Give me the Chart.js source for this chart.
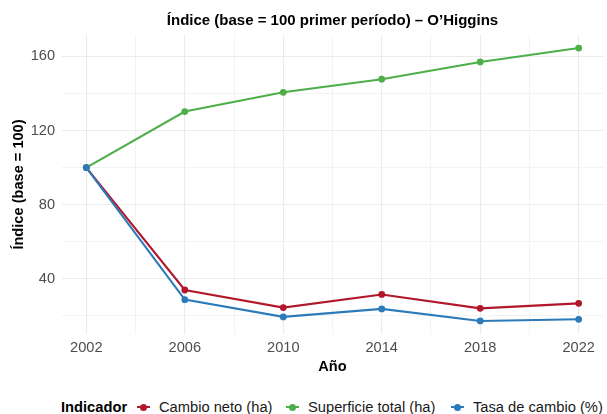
<!DOCTYPE html>
<html>
<head>
<meta charset="utf-8">
<script src="https://cdn.jsdelivr.net/npm/chart.js@4"></script>
<style>
  html,body{margin:0;padding:0;background:#fff;}
  #wrap{position:relative;width:607px;height:414px;}
  #c{position:absolute;left:0;top:0;}
  #legend{position:absolute;left:0;top:397px;width:607px;height:20px;font-family:"Liberation Sans",Arial,sans-serif;font-size:14.7px;color:#1a1a1a;white-space:nowrap;}
  .item{position:absolute;top:0;line-height:20px;}
  .key{position:absolute;top:5px;width:13px;height:10px;}
  .key .ln{position:absolute;left:0;top:4px;width:13px;height:2px;}
  .key .dt{position:absolute;left:3px;top:1.5px;width:7px;height:7px;border-radius:50%;}
</style>
</head>
<body>
<div id="wrap">
<canvas id="c" width="607" height="392"></canvas>
<div id="legend"></div>
</div>
<script>
const years = [2002, 2006, 2010, 2014, 2018, 2022];
const cambioNeto = [100, 33.9, 24.4, 31.5, 24.0, 26.7];
const superficieTotal = [100, 130.2, 140.6, 147.7, 157.0, 164.5];
const tasaCambio = [100, 28.7, 19.4, 23.7, 17.2, 18.1];
const seriesNames = ["Cambio neto (ha)", "Superficie total (ha)", "Tasa de cambio (%)"];
const seriesColors = ["#B2182B", "#4DAF4A", "#2B7BBA"];
const yTicks = [40, 80, 120, 160];
const xTicks = [2002, 2006, 2010, 2014, 2018, 2022];
const chartTitle = "Índice (base = 100 primer período) – O’Higgins";

const toPts = arr => arr.map((v, i) => ({x: years[i], y: v}));
const seriesData = [cambioNeto, superficieTotal, tasaCambio];
const orders = [3, 2, 1];

const datasets = seriesNames.map((n, i) => ({
  label: n,
  data: toPts(seriesData[i]),
  borderColor: seriesColors[i],
  backgroundColor: seriesColors[i],
  borderWidth: 2.1,
  pointRadius: 3.4,
  pointHoverRadius: 3.4,
  pointBorderWidth: 0,
  tension: 0,
  order: orders[i]
}));

const gridCol = "#EBEBEB";
const FONT = "'Liberation Sans', Arial, sans-serif";
const CH = 392;

// Title centred over the plotting panel (as in the reference)
const panelTitle = {
  id: 'panelTitle',
  afterDraw(chart) {
    const {ctx, chartArea} = chart;
    ctx.save();
    ctx.font = "bold 15px " + FONT;
    ctx.fillStyle = "#000";
    ctx.textAlign = 'center';
    ctx.textBaseline = 'middle';
    ctx.fillText(chartTitle, (chartArea.left + chartArea.right) / 2, 21);
    ctx.restore();
  }
};

new Chart(document.getElementById('c'), {
  type: 'line',
  data: {datasets},
  plugins: [panelTitle],
  options: {
    responsive: false,
    animation: false,
    devicePixelRatio: 1,
    layout: {padding: {left: 0, right: 3.7, top: 34.7, bottom: 0}},
    plugins: {
      legend: {display: false},
      tooltip: {enabled: false},
      title: {display: false}
    },
    scales: {
      x: {
        type: 'linear',
        min: 2001,
        max: 2023,
        afterBuildTicks: ax => { const t = []; for (let v = 2002; v <= 2022; v += 2) t.push({value: v}); ax.ticks = t; },
        afterFit: ax => { ax.height = CH - 334.3; },
        ticks: {
          color: "#4D4D4D",
          font: {family: FONT, size: 14.6},
          padding: 5,
          maxRotation: 0,
          autoSkip: false,
          callback: v => xTicks.includes(v) ? String(v) : ''
        },
        grid: {
          drawTicks: false,
          color: ctx => gridCol,
          lineWidth: ctx => (ctx.tick && xTicks.includes(ctx.tick.value)) ? 1.1 : 0.6
        },
        border: {display: false},
        title: {display: true, text: "Año", color: "#000", font: {family: FONT, size: 14.6, weight: 'bold'}, padding: {top: 0, bottom: 16.6}}
      },
      y: {
        type: 'linear',
        min: 10.0,
        max: 171.7,
        afterBuildTicks: ax => { const t = []; for (let v = 20; v <= 160; v += 20) t.push({value: v}); ax.ticks = t; },
        afterFit: ax => { ax.width = 61.7; },
        ticks: {
          color: "#4D4D4D",
          font: {family: FONT, size: 14.6},
          padding: 6.7,
          autoSkip: false,
          callback: v => yTicks.includes(v) ? String(v) : ''
        },
        grid: {
          drawTicks: false,
          color: ctx => gridCol,
          lineWidth: ctx => (ctx.tick && yTicks.includes(ctx.tick.value)) ? 1.1 : 0.6
        },
        border: {display: false},
        title: {display: true, text: "Índice (base = 100)", color: "#000", font: {family: FONT, size: 14.6, weight: 'bold'}, padding: {top: 9.8, bottom: 0}}
      }
    }
  }
});

// HTML legend
const lg = document.getElementById('legend');
const title = document.createElement('span');
title.className = 'item';
title.style.left = '61px';
title.style.fontWeight = 'bold';
title.style.color = '#000';
title.textContent = 'Indicador';
lg.appendChild(title);
const keyX = [137, 286, 451];
seriesNames.forEach((n, i) => {
  const k = document.createElement('span');
  k.className = 'key';
  k.style.left = keyX[i] + 'px';
  k.innerHTML = '<span class="ln" style="background:' + seriesColors[i] + '"></span><span class="dt" style="background:' + seriesColors[i] + '"></span>';
  lg.appendChild(k);
  const t = document.createElement('span');
  t.className = 'item';
  t.style.left = (keyX[i] + 22) + 'px';
  t.textContent = n;
  lg.appendChild(t);
});
</script>
</body>
</html>
